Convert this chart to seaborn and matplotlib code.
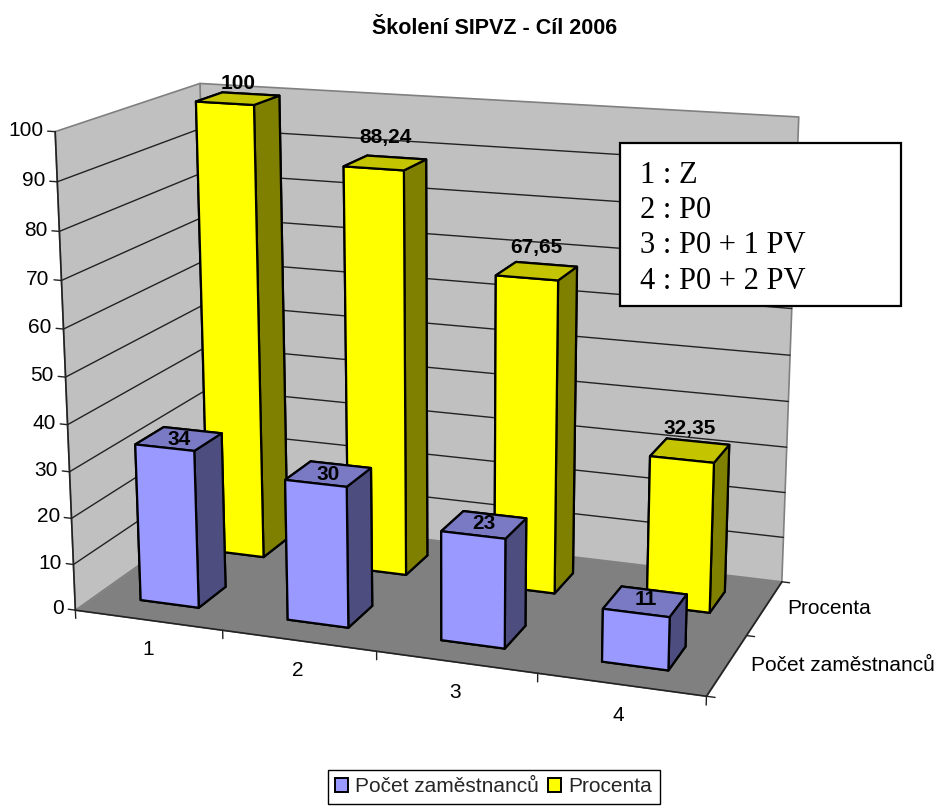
import matplotlib
matplotlib.use("Agg")
import matplotlib.pyplot as plt
from matplotlib.patches import Patch, Rectangle
from mpl_toolkits.mplot3d import proj3d
from mpl_toolkits.mplot3d.art3d import Poly3DCollection
import numpy as np
import seaborn as sns

sns.set_theme(style="white")
plt.rcParams["font.family"] = ["Liberation Sans", "DejaVu Sans"]

# data
categories = ["1", "2", "3", "4"]
series_names = ["Počet zaměstnanců", "Procenta"]
pocet = [34, 30, 23, 11]
procenta = [100, 88.24, 67.65, 32.35]
z_ticks = [0, 10, 20, 30, 40, 50, 60, 70, 80, 90, 100]
box_lines = ["1 : Z", "2 : P0", "3 : P0 + 1 PV", "4 : P0 + 2 PV"]
title = "Školení SIPVZ - Cíl 2006"

W, H = 935, 808
FS = 15

# colours: front, top, side
BLUE = ("#9999FF", "#7A7AC4", "#4D4D80")
YELLOW = ("#FFFF00", "#C4C400", "#808000")

# Excel places the value labels a little off the bar top, in pixels upward
blue_nudge = [-5, -5, -4, -3]
yellow_nudge = [10, 21, 19, 17]


def px(x, y):
    # picture pixels to figure fraction
    return x / W, 1 - y / H


def camera(ax):
    # Excel's perspective, solved from where the chart box corners sit in the picture
    box = [(0, 0, 0, 75, 611), (4, 0, 0, 706, 696), (4, 2, 0, 782, 582),
           (0, 2, 0, 212, 513), (0, 0, 100, 56, 131), (0, 2, 100, 199, 84),
           (4, 2, 100, 799, 117)]
    A, b = [], []
    for X, Y, Z, u, v in box:
        v = H - v
        A.append([X, Y, Z, 1, 0, 0, 0, 0, -u * X, -u * Y, -u * Z])
        A.append([0, 0, 0, 0, X, Y, Z, 1, -v * X, -v * Y, -v * Z])
        b += [u, v]
    p = np.linalg.lstsq(np.array(A, float), np.array(b, float), rcond=None)[0]
    P = np.append(p, 1).reshape(3, 4)
    P2 = np.linalg.inv(ax.transData.get_matrix()) @ P
    return np.array([P2[0], P2[1], [0, 0, 0, -1], P2[2]])


fig = plt.figure(figsize=(W / 100, H / 100), dpi=100, facecolor="white")
ax = fig.add_axes([0, 0, 1, 1], projection="3d")
ax.apply_aspect = lambda position=None: None
ax._set_position([0, 0, 1, 1])
ax.set_axis_off()
ax.computed_zorder = False
M = camera(ax)
ax.get_proj = lambda: M


def label(x, y, z, s, up=0, **kw):
    # text at a chart position, placed flat on the figure
    u, v, _ = proj3d.proj_transform(x, y, z, M)
    dx, dy = ax.transData.transform((u, v))
    ax.text2D(dx, dy + up, s, transform=None, color="black", zorder=30, **kw)


# walls and floor
n_cat = len(categories)
n_ser = len(series_names)
top = z_ticks[-1]
left_wall = [(0, 0, 0), (0, n_ser, 0), (0, n_ser, top), (0, 0, top)]
back_wall = [(0, n_ser, 0), (n_cat, n_ser, 0), (n_cat, n_ser, top), (0, n_ser, top)]
floor = [(0, 0, 0), (n_cat, 0, 0), (n_cat, n_ser, 0), (0, n_ser, 0)]
ax.add_collection3d(Poly3DCollection([left_wall, back_wall], facecolor="#C0C0C0",
                                     edgecolor="#808080", linewidth=1.2, zorder=1))
ax.add_collection3d(Poly3DCollection([floor], facecolor="#808080",
                                     edgecolor="#808080", linewidth=0.5, zorder=2))

# gridlines on the walls
for z in z_ticks[1:-1]:
    ax.plot([0, 0, n_cat], [0, n_ser, n_ser], [z, z, z], color="#222222", lw=1, zorder=3)

# axis lines and ticks
AXC = "#222222"
ax.plot([0, 0], [0, 0], [0, top], color=AXC, lw=1.2, zorder=4)
ax.plot([0, n_cat, n_cat], [0, 0, n_ser], [0, 0, 0], color=AXC, lw=1.2, zorder=4)
for z in z_ticks:
    ax.plot([-0.05, 0], [0, 0], [z, z], color=AXC, lw=1, zorder=4)
    label(-0.08, 0, z, str(z), ha="right", va="center", fontsize=FS)
for i in range(n_cat + 1):
    ax.plot([i, i], [0, 0], [-1.8, 0], color=AXC, lw=1, zorder=4)
for s in range(n_ser + 1):
    ax.plot([n_cat, n_cat + 0.05], [s, s], [0, 0], color=AXC, lw=1, zorder=4)

for i, c in enumerate(categories):
    label(i + 0.49, 0, -6.5, c, ha="center", va="center", fontsize=FS)
for s, name in enumerate(series_names):
    label(n_cat + 0.14, s + 0.5, 0.5, name, ha="left", va="center", fontsize=FS)

# bars, back row first so the front row covers it
BAR = 0.4
rows = [(1, procenta, YELLOW, yellow_nudge), (0, pocet, BLUE, blue_nudge)]
order = 10
for s, values, (front, upper, side), nudge in rows:
    for i, v in enumerate(values):
        # faces: bottom, top, front, back, left, right
        ax.bar3d(i + 0.5 - BAR / 2, s + 0.5 - BAR / 2, 0, BAR, BAR, v,
                 color=[front, upper, front, front, side, side], shade=False,
                 edgecolor="black", linewidth=1.6, zorder=order)
        order += 1
        text = f"{v:g}".replace(".", ",")
        label(i + 0.5, s + 0.5, v + 1, text, up=nudge[i], ha="center", va="center",
              fontsize=FS, fontweight="bold")

ax.set_xlim(0, n_cat)
ax.set_ylim(0, n_ser)
ax.set_zlim(0, top)

# title
tx, ty = px(495, 28)
fig.text(tx, ty, title, ha="center", va="center", fontsize=15.5, fontweight="bold", color="black")

# the key box typed over the chart
x0, y0 = px(620, 306)
x1, y1 = px(901, 143)
fig.add_artist(Rectangle((x0, y0), x1 - x0, y1 - y0, transform=fig.transFigure,
                         facecolor="white", edgecolor="black", linewidth=1.6, zorder=5))
for line, base in zip(box_lines, [183, 218, 253, 289]):
    lx, ly = px(640, base)
    fig.text(lx, ly, line, ha="left", va="baseline", fontsize=22,
             family="Liberation Serif", color="black", zorder=6)

# legend
handles = [Patch(facecolor=BLUE[0], edgecolor="black", linewidth=1.4, label=series_names[0]),
           Patch(facecolor=YELLOW[0], edgecolor="black", linewidth=1.4, label=series_names[1])]
lx, ly = px(493.5, 787)
ax.legend(handles=handles, loc="center", bbox_to_anchor=(lx, ly), bbox_transform=fig.transFigure,
          ncol=2, frameon=True, fancybox=False, framealpha=1, edgecolor="black", fontsize=FS,
          handlelength=0.62, handleheight=0.62, handletextpad=0.35, columnspacing=0.45,
          borderpad=0.35, borderaxespad=0)

fig.savefig("out.png", dpi=100)
plt.close(fig)
